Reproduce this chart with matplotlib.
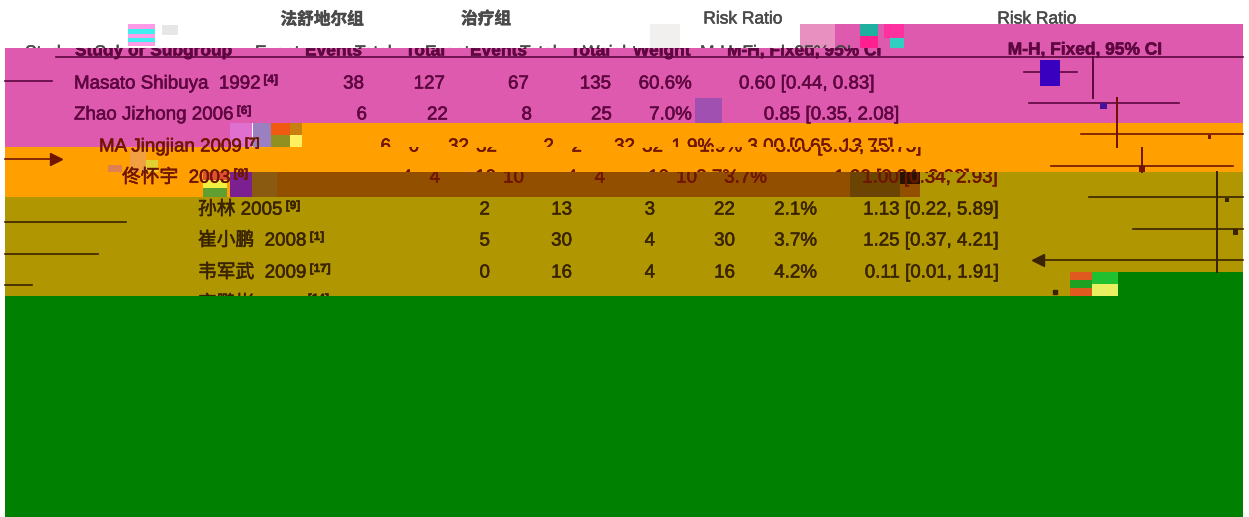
import numpy as np
from matplotlib import pyplot as plt
from matplotlib import patheffects as pe
from matplotlib.patches import Rectangle

plt.rcParams['font.family'] = ['Liberation Sans', 'Noto Sans CJK SC', 'DejaVu Sans']

# data, rows
studies = ['Masato Shibuya  1992', 'Zhao Jizhong 2006', 'MA Jingjian 2009', '佟怀宇  2003',
           '孙林 2005', '崔小鹏  2008', '韦军武  2009']
refs = ['[4]', '[6]', '[7]', '[8]', '[9]', '[1]', '[17]']
events1 = [38, 6, 6, 4, 2, 5, 0]
total1 = [127, 22, 32, 10, 13, 30, 16]
events2 = [67, 8, 2, 4, 3, 4, 4]
total2 = [135, 25, 32, 10, 22, 30, 16]
weight = [60.6, 7.0, 1.9, 3.7, 2.1, 3.7, 4.2]
rr = [0.60, 0.85, 3.00, 1.00, 1.13, 1.25, 0.11]
low = [0.44, 0.35, 0.65, 0.34, 0.22, 0.37, 0.01]
high = [0.83, 2.08, 13.75, 2.93, 5.89, 4.21, 1.91]

PINK = '#dd5aae'
ORANGE = '#ffa000'
OLIVE = '#b09600'
GREEN = '#008000'
BROWN = '#934f00'
GRAY = '#4a4a4a'
MAROON = '#5e0640'
RUST = '#701500'
DARK = '#3a2400'

fig = plt.figure(figsize=[12.49, 5.17], dpi=100, facecolor='w')
ax = fig.add_axes([0, 0, 1, 1])
ax.set_xlim(0, 1249)
ax.set_ylim(517, 0)
ax.axis('off')


def band(x0, y0, x1, y1, c, z=1):
    ax.add_patch(Rectangle((x0, y0), x1 - x0, y1 - y0, facecolor=c, edgecolor='none', zorder=z))


def put(s, x, y, ha='left', c=DARK, clip=None, size=13.5, weight_='normal'):
    t = ax.text(x, y, s, ha=ha, va='center', color=c, fontsize=size, fontweight=weight_, zorder=5)
    t.set_path_effects([pe.withStroke(linewidth=0.4, foreground=c)])
    if clip is not None:
        r = Rectangle((clip[0], clip[1]), clip[2] - clip[0], clip[3] - clip[1], transform=ax.transData)
        t.set_clip_path(r)
        t.set_clip_on(True)
    return t


def name(i, x, y, c, clip=None):
    t = put(studies[i], x, y, c=c, clip=clip)
    end = t.get_window_extent(fig.canvas.get_renderer()).x1
    put(refs[i], end + 3, y - 4, c=c, clip=clip, size=8.5, weight_='bold')


# colour bands of the broken picture
band(5, 48, 1243, 123, PINK)
band(823, 24, 1243, 48, PINK)
band(5, 123, 230, 147, PINK)
band(253, 123, 1243, 172, ORANGE)
band(5, 147, 253, 197, ORANGE)
band(230, 172, 920, 197, BROWN)
band(5, 197, 1243, 296, OLIVE)
band(920, 172, 1243, 197, OLIVE)
band(1118, 272, 1243, 296, GREEN)
band(5, 296, 1243, 517, GREEN)

# corrupted blocks
noise = [(128, 24, 27, 5, '#ff9ce8'), (128, 29, 27, 5, '#40f0f0'), (128, 34, 27, 4, '#ff9ce8'),
         (128, 38, 27, 4, '#40f0f0'), (128, 42, 27, 4, '#ff9ce8'), (162, 25, 16, 10, '#e6e6e6'),
         (230, 123, 22, 24, '#e070d0'), (253, 123, 18, 24, '#9a80c0'), (271, 123, 25, 12, '#f05a10'),
         (271, 135, 25, 12, '#909020'), (290, 123, 12, 12, '#c88010'), (290, 135, 12, 12, '#fff060'),
         (130, 150, 16, 22, '#f0a040'), (146, 160, 12, 12, '#e0d030'), (108, 165, 14, 7, '#e08050'),
         (203, 172, 24, 8, '#e05030'), (203, 180, 24, 8, '#f0f040'), (203, 188, 24, 9, '#60a030'),
         (230, 172, 22, 25, '#7a2090'), (252, 172, 25, 25, '#8a5a10'), (695, 98, 27, 25, '#a050b0'),
         (650, 24, 30, 24, '#f2f0ee'), (800, 24, 35, 24, '#e890c0'), (860, 24, 18, 12, '#20b0a0'),
         (860, 36, 18, 12, '#ff2090'), (884, 24, 20, 14, '#ff30a0'), (890, 38, 14, 10, '#30d0c0'),
         (850, 172, 50, 25, '#6a4400'), (900, 172, 20, 12, '#2a1400'), (1070, 272, 22, 8, '#e05a20'),
         (1070, 280, 22, 8, '#20a020'), (1070, 288, 22, 8, '#e05a20'), (1092, 272, 26, 12, '#20c030'),
         (1092, 284, 26, 12, '#e8f060')]
for b in noise:
    band(b[0], b[1], b[0] + b[2], b[1] + b[3], b[4], z=2)

# header, upper part on white and the shifted part in the band
put('法舒地尔组', 322, 19, ha='center', c=GRAY, size=12, weight_='bold')
put('治疗组', 486, 19, ha='center', c=GRAY, size=12, weight_='bold')
put('Risk Ratio', 743, 19, ha='center', c=GRAY, size=12.5, clip=(600, 0, 823, 24))
put('Risk Ratio', 1037, 19, ha='center', c=GRAY, size=12.5, clip=(900, 0, 1200, 24))
white_cut = (0, 0, 1249, 48)
for s, x in [('Study or Subgroup', 25), ('Events', 255), ('Total', 355), ('Events', 425),
             ('Total', 520), ('Weight', 583), ('M-H, Fixed, 95% CI', 700)]:
    put(s, x, 53, c=GRAY, clip=white_cut, size=12.5)
band_cut = (0, 48, 1249, 517)
for s, x in [('Study or Subgroup', 75), ('Events', 305), ('Total', 405), ('Events', 470),
             ('Total', 570), ('Weight', 633), ('M-H, Fixed, 95% CI', 727)]:
    put(s, x, 51, c=MAROON, clip=band_cut, size=12.5, weight_='bold')
put('M-H, Fixed, 95% CI', 1085, 50, ha='center', c=MAROON, size=12.5, weight_='bold')
ax.plot([56, 1243], [57, 57], color=MAROON, lw=1.2, zorder=4)
ax.plot([5, 52], [81, 81], color=MAROON, lw=1.2, zorder=4)

# table columns, one layout per row because the bands are shifted
text_y = [84, 115, 147, 178, 210, 241, 273]
name_x = [74, 74, 99, 122, 198, 198, 198]
col_x = [[364, 445, 529, 611, 692, 875], [367, 448, 532, 612, 692, 900],
         [419, 497, 582, 663, 742, 922], [440, 524, 605, 697, 767, 998],
         [490, 572, 655, 735, 817, 999], [490, 572, 655, 735, 817, 999],
         [490, 572, 655, 735, 817, 999]]
row_c = [MAROON, MAROON, RUST, RUST, DARK, DARK, DARK]


def row_text(i, xs, clip, dx=0):
    vals = [events1[i], total1[i], events2[i], total2[i], '%.1f%%' % weight[i],
            '%.2f [%.2f, %.2f]' % (rr[i], low[i], high[i])]
    for v, x in zip(vals, xs):
        put(str(v), x + dx, text_y[i], ha='right', c=row_c[i], clip=clip)


for i in range(len(studies)):
    if i == 2:
        # row split over two bands
        name(i, name_x[i], text_y[i], row_c[i], clip=(0, 0, 1249, 147))
        name(i, name_x[i], text_y[i], row_c[i], clip=(0, 147, 1249, 172))
        row_text(i, col_x[i], (0, 0, 1249, 147), dx=-28)
        row_text(i, col_x[i], (0, 147, 1249, 172))
    elif i == 3:
        name(i, name_x[i], text_y[i], row_c[i])
        row_text(i, col_x[i], (0, 0, 1249, 172), dx=-28)
        row_text(i, col_x[i], (0, 172, 1249, 197))
    else:
        name(i, name_x[i], text_y[i], row_c[i])
        row_text(i, col_x[i], None)

# next row only shows its top edge
put('宋鹏彬', 198, 304, c=DARK, clip=(0, 290, 1249, 296))
put('2010', 265, 305, c=DARK, clip=(0, 290, 1249, 296))
put('[14]', 308, 299, c=DARK, clip=(0, 290, 1249, 296), size=8.5, weight_='bold')

# forest plot, log scale in pixels
line_y = [72, 103, 134, 166, 197, 229, 260]
ref_x = [1093, 1117, 1117, 1142, 1217, 1217, 1217]
ref_span = [(57, 98), (98, 147), (98, 147), (148, 172), (172, 272), (172, 272), (172, 272)]
line_c = [MAROON, MAROON, RUST, RUST, DARK, DARK, DARK]
box_c = ['#3a00c0', '#46109a', RUST, RUST, DARK, DARK, DARK]
DECADE = 194
LIMIT = 183
EDGE = 1243
WRAP = 1240

for i in range(len(rr)):
    x0 = ref_x[i]
    y = line_y[i]
    c = line_c[i]
    ax.plot([x0, x0], ref_span[i], color=c, lw=1.4, zorder=4)
    lo = x0 + max(DECADE * np.log10(low[i]), -LIMIT)
    hi = x0 + min(DECADE * np.log10(high[i]), LIMIT)
    mid = x0 + DECADE * np.log10(rr[i])
    ax.plot([lo, min(hi, EDGE)], [y, y], color=c, lw=1.2, zorder=4)
    if DECADE * np.log10(low[i]) < -LIMIT:
        ax.plot(lo + 4, y, marker='<', ms=8, color=c, zorder=4)
    if hi > WRAP:
        # line runs off the right side and comes back one step lower
        ax.plot([5, hi - WRAP], [y + 25, y + 25], color=c, lw=1.2, zorder=4)
        if DECADE * np.log10(high[i]) > LIMIT:
            ax.plot(hi - WRAP - 4, y + 25, marker='>', ms=8, color=c, zorder=4)
    side = 2.6 * np.sqrt(weight[i])
    h = side * 1.25 if i == 0 else side
    cy = y + 1 if i == 0 else y + 3
    if lo < mid < EDGE:
        band(mid - side / 2, cy - h / 2, mid + side / 2, cy + h / 2, box_c[i], z=4)

ax.plot(1055, 292, marker='s', ms=2.5, color=DARK, zorder=4)

plt.savefig('out.png', dpi=100)
